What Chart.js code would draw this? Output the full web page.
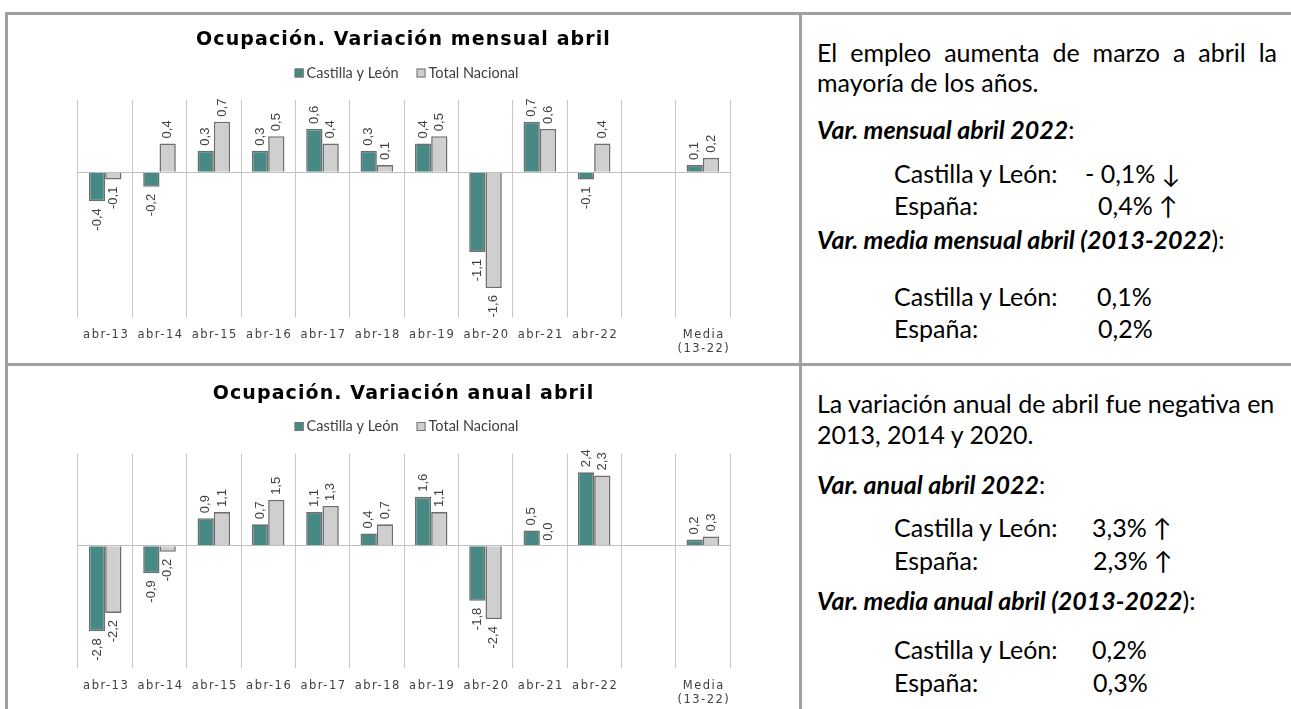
<!DOCTYPE html>
<html>
<head>
<meta charset="UTF-8" />
<script src="https://cdn.jsdelivr.net/npm/chart.js"></script>
<style>
  body { margin: 0; background: #fff; width: 1291px; height: 709px; position: relative; overflow: hidden; }
  .rule { position: absolute; background: #a0a0a0; }
  canvas { position: absolute; display: block; }
  .t { position: absolute; font-family: Lato, sans-serif; font-size: 25px; line-height: 30px; white-space: nowrap; color: #000; }
  .h { font-weight: bold; font-style: italic; }
  .h span { font-weight: normal; font-style: normal; }
</style>
</head>
<body>
  <canvas id="mensual" width="791" height="348" style="left:8px; top:15px;"></canvas>
  <canvas id="anual" width="791" height="343" style="left:8px; top:366px;"></canvas>

  <div class="rule" style="left:5px; top:12px; width:1286px; height:3px;"></div>
  <div class="rule" style="left:5px; top:363px; width:1286px; height:3px;"></div>
  <div class="rule" style="left:5px; top:12px; width:3px; height:697px;"></div>
  <div class="rule" style="left:799px; top:12px; width:3px; height:697px;"></div>

  <!-- texto fila 1 -->
  <div class="t" style="left:817px; top:37px; width:460px; text-align:justify; text-align-last:justify;">El empleo aumenta de marzo a abril la</div>
  <div class="t" style="left:817px; top:67px;">mayoría de los años.</div>
  <div class="t h" style="left:817px; top:114px;">Var. mensual abril 2022<span>:</span></div>
  <div class="t" style="left:894px; top:158px;">Castilla y León:</div>
  <div class="t" style="left:1085px; top:158px;">- 0,1% ↓</div>
  <div class="t" style="left:894px; top:190px;">España:</div>
  <div class="t" style="left:1098px; top:190px;">0,4% ↑</div>
  <div class="t h" style="left:817px; top:224px;">Var. media mensual abril (2013-2022<span>):</span></div>
  <div class="t" style="left:894px; top:281px;">Castilla y León:</div>
  <div class="t" style="left:1097px; top:281px;">0,1%</div>
  <div class="t" style="left:894px; top:313px;">España:</div>
  <div class="t" style="left:1098px; top:313px;">0,2%</div>

  <!-- texto fila 2 -->
  <div class="t" style="left:817px; top:388px;">La variación anual de abril fue negativa en</div>
  <div class="t" style="left:817px; top:419px;">2013, 2014 y 2020.</div>
  <div class="t h" style="left:817px; top:469px;">Var. anual abril 2022<span>:</span></div>
  <div class="t" style="left:894px; top:512px;">Castilla y León:</div>
  <div class="t" style="left:1092px; top:512px;">3,3% ↑</div>
  <div class="t" style="left:894px; top:545px;">España:</div>
  <div class="t" style="left:1093px; top:545px;">2,3% ↑</div>
  <div class="t h" style="left:817px; top:585px;">Var. media anual abril (2013-2022<span>):</span></div>
  <div class="t" style="left:894px; top:634px;">Castilla y León:</div>
  <div class="t" style="left:1092px; top:634px;">0,2%</div>
  <div class="t" style="left:894px; top:667px;">España:</div>
  <div class="t" style="left:1093px; top:667px;">0,3%</div>

<script>
// Categorías del eje X (hueco vacío antes de la media)
const categories = ['abr-13', 'abr-14', 'abr-15', 'abr-16', 'abr-17', 'abr-18', 'abr-19', 'abr-20', 'abr-21', 'abr-22', '', ['Media', '(13-22)']];
const seriesNames = ['Castilla y León', 'Total Nacional'];

// Variación mensual abril (%)
const mensualCyL = [-0.4, -0.2, 0.3, 0.3, 0.6, 0.3, 0.4, -1.1, 0.7, -0.1, null, 0.1];
const mensualNacional = [-0.1, 0.4, 0.7, 0.5, 0.4, 0.1, 0.5, -1.6, 0.6, 0.4, null, 0.2];

// Variación anual abril (%)
const anualCyL = [-2.8, -0.9, 0.9, 0.7, 1.1, 0.4, 1.6, -1.8, 0.5, 2.4, null, 0.2];
const anualNacional = [-2.2, -0.2, 1.1, 1.5, 1.3, 0.7, 1.1, -2.4, 0.0, 2.3, null, 0.3];

const colors = ['#478985', '#d0cfd0'];
const textColor = '#404040';

// Título, leyenda, etiquetas del eje X y valores sobre las barras
const decor = {
  id: 'decor',
  afterDatasetsDraw(chart) {
    const ctx = chart.ctx;
    ctx.save();
    ctx.fillStyle = textColor;
    ctx.font = '13px "Liberation Sans"';
    ctx.textBaseline = 'middle';
    chart.data.datasets.forEach((ds, di) => {
      const meta = chart.getDatasetMeta(di);
      meta.data.forEach((bar, i) => {
        const v = ds.data[i];
        if (v === null) return;
        const txt = v.toFixed(1).replace('.', ',');
        ctx.save();
        ctx.translate(bar.x, v >= 0 ? bar.y - 5 : bar.y + 7);
        ctx.rotate(-Math.PI / 2);
        ctx.textAlign = v >= 0 ? 'left' : 'right';
        ctx.fillText(txt, 0, 0);
        ctx.restore();
      });
    });
    ctx.restore();
  },
  afterDraw(chart) {
    const ctx = chart.ctx;
    const o = chart.options.plugins.decor;
    const area = chart.chartArea;
    const cx = chart.width / 2;

    // título
    ctx.save();
    ctx.fillStyle = '#000';
    ctx.font = 'bold 19px "DejaVu Sans"';
    ctx.letterSpacing = '1.1px';
    ctx.textAlign = 'center';
    ctx.textBaseline = 'alphabetic';
    ctx.fillText(o.title, cx, o.titleY);
    ctx.restore();

    // leyenda
    ctx.save();
    ctx.font = '14.5px Lato';
    ctx.textBaseline = 'alphabetic';
    const gap = 18;
    const widths = seriesNames.map(n => 12 + ctx.measureText(n).width);
    let x = cx + 3 - (widths[0] + gap + widths[1]) / 2;
    seriesNames.forEach((n, i) => {
      ctx.fillStyle = colors[i];
      ctx.fillRect(x, o.legendY - 9, 9, 9);
      ctx.strokeStyle = '#737373';
      ctx.lineWidth = 1;
      ctx.strokeRect(x + 0.5, o.legendY - 8.5, 8, 8);
      ctx.fillStyle = textColor;
      ctx.fillText(n, x + 12, o.legendY);
      x += widths[i] + gap;
    });
    ctx.restore();

    // etiquetas del eje X
    ctx.save();
    ctx.font = '11.5px "DejaVu Sans"';
    ctx.letterSpacing = '1.5px';
    ctx.fillStyle = textColor;
    ctx.textAlign = 'center';
    ctx.textBaseline = 'alphabetic';
    const xs = chart.scales.x;
    categories.forEach((c, i) => {
      const px = xs.getPixelForTick(i) + 1;
      const lines = Array.isArray(c) ? c : [c];
      lines.forEach((l, j) => ctx.fillText(l, px, area.bottom + 20.5 + j * 14.5));
    });
    ctx.restore();
  }
};

function makeChart(id, title, dataA, dataB, yMin, yMax, pad, titleY, legendY) {
  return new Chart(document.getElementById(id), {
    type: 'bar',
    data: {
      labels: categories,
      datasets: [
        { label: seriesNames[0], data: dataA, backgroundColor: colors[0] },
        { label: seriesNames[1], data: dataB, backgroundColor: colors[1] },
      ],
    },
    options: {
      responsive: false,
      devicePixelRatio: 1,
      animation: false,
      layout: { padding: pad },
      datasets: {
        bar: {
          categoryPercentage: 0.6,
          barPercentage: 1.0,
          borderColor: '#6e6e6e',
          borderWidth: 1.6,
        },
      },
      plugins: {
        legend: { display: false },
        title: { display: false },
        tooltip: { enabled: false },
        decor: { title, titleY, legendY },
      },
      scales: {
        x: {
          offset: true,
          grid: { offset: true, color: '#c6c6c6', lineWidth: 1, drawTicks: false },
          border: { display: false },
          ticks: { display: false },
        },
        y: {
          min: yMin,
          max: yMax,
          grid: {
            drawTicks: false,
            color: c => (c.tick && c.tick.value === 0 ? '#bfbfbf' : 'rgba(0,0,0,0)'),
            lineWidth: 1,
          },
          border: { display: false },
          ticks: { display: false, stepSize: 1 },
        },
      },
    },
    plugins: [decor],
  });
}

makeChart('mensual', 'Ocupación. Variación mensual abril', mensualCyL, mensualNacional,
  -2, 1, { left: 70, right: 69, top: 85, bottom: 46 }, 30, 62.5);
makeChart('anual', 'Ocupación. Variación anual abril', anualCyL, anualNacional,
  -4, 3, { left: 70, right: 69, top: 88, bottom: 41 }, 32.5, 65);
</script>
</body>
</html>
